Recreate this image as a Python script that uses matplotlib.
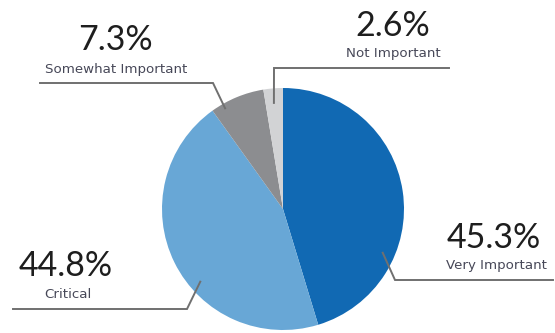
import numpy as np
import matplotlib
matplotlib.use("Agg")
import matplotlib.pyplot as plt

W, H = 555, 333

labels = ["Very Important", "Critical", "Somewhat Important", "Not Important"]
shares = [45.3, 44.8, 7.3, 2.6]
colors = ["#1169b3", "#68a7d6", "#8c8d90", "#d2d3d5"]

# label placement, in pixels from the top-left corner
pct_pos = [(494, 238), (66, 266), (115, 40), (393, 26)]
name_pos = [(496, 265), (68, 295), (116, 70), (393, 54)]
# leader lines: anchor angle/radius on the pie, elbow, end of the rule
lead_ang = [-23.7, 221.3, 119.9, 94.9]
lead_rad = [0.90, 0.91, 0.96, 0.88]
elbow = [(395, 280), (187, 309), (213, 83), (274, 68)]
rule_end = [553, 13, 40, 449]

cx, cy, R = 283, 209, 121


def flip(y):
    return H - y


fig = plt.figure(figsize=(W / 100, H / 100), dpi=100)
ax = fig.add_axes([0, 0, 1, 1])
ax.pie(shares, colors=colors, startangle=90, counterclock=False,
       center=(cx, flip(cy)), radius=R, frame=True,
       wedgeprops=dict(linewidth=0))
ax.set_xlim(0, W)
ax.set_ylim(0, H)
ax.set_aspect("auto")
ax.axis("off")

for i in range(len(labels)):
    a = np.deg2rad(lead_ang[i])
    x0 = cx + R * lead_rad[i] * np.cos(a)
    y0 = flip(cy) + R * lead_rad[i] * np.sin(a)
    ex, ey = elbow[i]
    ax.plot([x0, ex, rule_end[i]], [y0, flip(ey), flip(ey)],
            color="#707070", lw=1.4, solid_joinstyle="miter")
    px, py = pct_pos[i]
    ax.text(px, flip(py), f"{shares[i]}%", ha="center", va="center",
            fontsize=24.5, family="Lato", color="#1e1e1e")
    nx, ny = name_pos[i]
    ax.text(nx, flip(ny), labels[i], ha="center", va="center",
            fontsize=9.6, family="DejaVu Sans", color="#474858")

fig.savefig("out.png", dpi=100)
